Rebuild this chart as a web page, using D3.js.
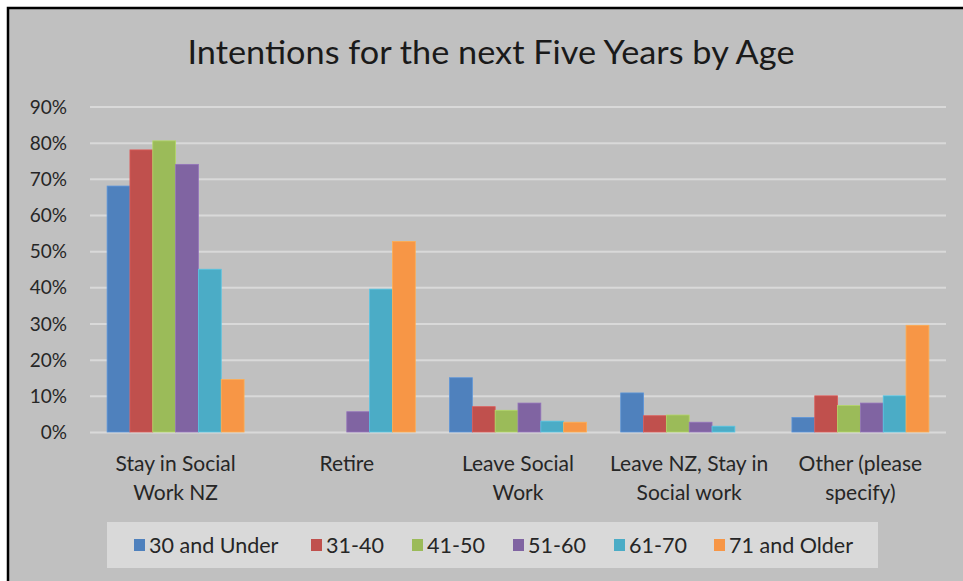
<!DOCTYPE html>
<html>
<head>
<meta charset="utf-8">
<script src="https://cdn.jsdelivr.net/npm/d3@7"></script>
<style>
  html, body { margin: 0; padding: 0; background: #ffffff; }
  svg { display: block; }
  text { font-family: Lato, "Open Sans", sans-serif; }
</style>
</head>
<body>
<svg id="chart" width="963" height="581"></svg>
<script>
// Intentions by category, one value list per age group (fractions)
const categories = [
  ["Stay in Social", "Work NZ"],
  ["Retire"],
  ["Leave Social", "Work"],
  ["Leave NZ, Stay in", "Social work"],
  ["Other (please", "specify)"]
];
const seriesNames = ["30 and Under", "31-40", "41-50", "51-60", "61-70", "71 and Older"];
const under30   = [0.68,  0.0,   0.150, 0.108, 0.040];
const age31_40  = [0.78,  0.0,   0.070, 0.045, 0.100];
const age41_50  = [0.805, 0.0,   0.060, 0.047, 0.073];
const age51_60  = [0.74,  0.056, 0.080, 0.027, 0.080];
const age61_70  = [0.45,  0.395, 0.030, 0.016, 0.100];
const over70    = [0.145, 0.527, 0.027, 0.0,   0.295];
const yTicks = [0, 0.1, 0.2, 0.3, 0.4, 0.5, 0.6, 0.7, 0.8, 0.9];

const series = [under30, age31_40, age41_50, age51_60, age61_70, over70];
const colors = ["#4f81bd", "#c0504d", "#9bbb59", "#8064a2", "#4bacc6", "#f79646"];

const svg = d3.select("#chart");

// Chart area: grey panel with a dark frame on the top and left
svg.append("rect").attr("x", 8).attr("y", 8).attr("width", 963).attr("height", 581)
  .attr("fill", "#c0c0c0").attr("stroke", "#000").attr("stroke-width", 2.5);

svg.append("text")
  .attr("x", 491).attr("y", 64)
  .attr("text-anchor", "middle")
  .attr("font-size", 33)
  .attr("textLength", 607)
  .attr("lengthAdjust", "spacingAndGlyphs")
  .attr("fill", "#1a1a1a")
  .text("Intentions for the next Five Years by Age");

const plot = { left: 90, right: 946, top: 106.5, bottom: 432 };

const x0 = d3.scaleBand()
  .domain(categories.map((c, i) => i))
  .range([plot.left, plot.right])
  .paddingInner(0.2).paddingOuter(0.1);
const x1 = d3.scaleBand()
  .domain(seriesNames.map((s, i) => i))
  .range([0, x0.bandwidth()]);
const y = d3.scaleLinear().domain([0, 0.9]).range([plot.bottom, plot.top]);

// Gridlines and y labels
const yAxis = d3.axisLeft(y).tickValues(yTicks).tickFormat(d3.format(".0%"))
  .tickSize(-(plot.right - plot.left)).tickPadding(23);
const gy = svg.append("g").attr("transform", `translate(${plot.left},0)`).call(yAxis);
gy.select(".domain").remove();
gy.selectAll(".tick line").attr("stroke", "#d9d9d9").attr("stroke-width", 2);
gy.selectAll(".tick text").attr("font-size", 19).attr("fill", "#262626")
  .attr("font-family", "Lato, sans-serif").attr("dy", "0.35em");

// Bars
const groups = svg.append("g").selectAll("g")
  .data(categories.map((c, ci) => series.map((s, si) => ({ ci, si, v: s[ci] }))))
  .join("g")
  .attr("transform", (d, i) => `translate(${x0(i)},0)`);
groups.selectAll("rect")
  .data(d => d)
  .join("rect")
  .attr("x", d => x1(d.si))
  .attr("y", d => y(d.v))
  .attr("width", x1.bandwidth())
  .attr("height", d => y(0) - y(d.v))
  .attr("fill", d => colors[d.si])
  .attr("stroke", d => d3.color(colors[d.si]).brighter(0.4))
  .attr("stroke-width", d => d.v > 0 ? 0.8 : 0);

// Category labels
const xl = svg.append("g").selectAll("text")
  .data(categories)
  .join("text")
  .attr("x", (d, i) => x0(i) + x0.bandwidth() / 2)
  .attr("y", 471)
  .attr("text-anchor", "middle")
  .attr("font-size", 21)
  .attr("fill", "#262626");
xl.selectAll("tspan")
  .data(d => d)
  .join("tspan")
  .attr("x", function () { return this.parentNode.getAttribute("x"); })
  .attr("dy", (d, i) => i === 0 ? 0 : 29)
  .text(d => d);

// Legend
svg.append("rect").attr("x", 107).attr("y", 522).attr("width", 771).attr("height", 46)
  .attr("fill", "#d9d9d9");
const legendX = [134, 311, 412, 513, 614, 714];
const lg = svg.append("g").selectAll("g")
  .data(seriesNames)
  .join("g")
  .attr("transform", (d, i) => `translate(${legendX[i]},545)`);
lg.append("rect").attr("x", 0).attr("y", -6).attr("width", 11).attr("height", 12)
  .attr("fill", (d, i) => colors[i]);
lg.append("text").attr("x", 15).attr("y", 0).attr("dy", "0.35em")
  .attr("font-size", 21.5).attr("fill", "#262626").text(d => d);
</script>
</body>
</html>
